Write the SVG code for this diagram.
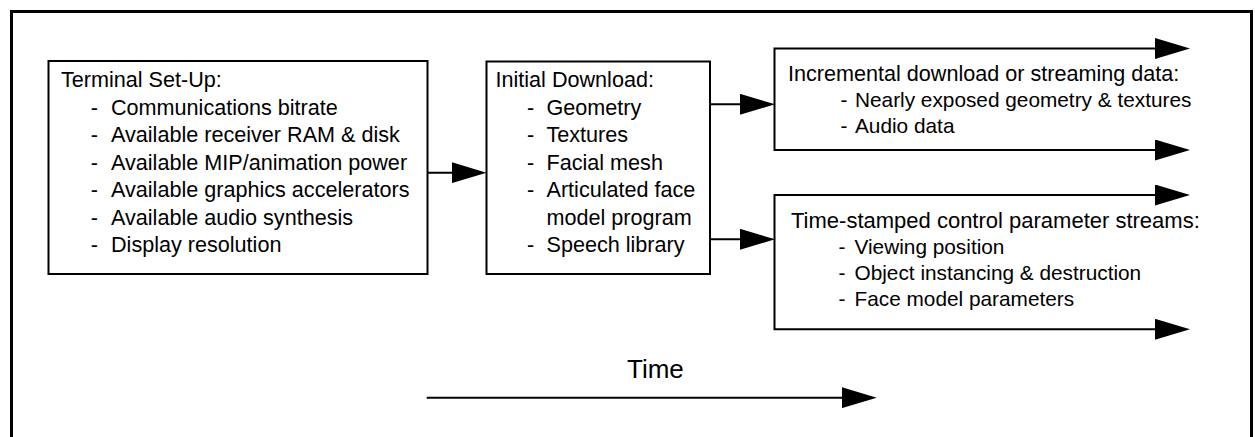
<svg xmlns="http://www.w3.org/2000/svg" width="1255" height="437" viewBox="0 0 1255 437">
  <style>
    .box { fill: #fff; stroke: #000; stroke-width: 2; }
    .frame { fill: #fff; stroke: #000; stroke-width: 3; }
    .wire { fill: none; stroke: #000; stroke-width: 2; }
    text { font-family: "Liberation Sans", Arial, sans-serif; font-size: 21.6px; fill: #000; }
    .item { font-size: 20.8px; }
    .wide { font-size: 22px; }
    .big { font-size: 26px; }
  </style>
  <defs>
    <!-- solid triangular arrowhead, 35 long by 21 wide; line ends 5px short of the tip -->
    <marker id="head" viewBox="0 0 35 21" refX="30" refY="10.5" markerWidth="35" markerHeight="21" markerUnits="userSpaceOnUse" orient="auto-start-reverse">
      <path d="M0,0 L35,10.5 L0,21 Z" fill="#000"/>
    </marker>
  </defs>

  <!-- outer frame (bottom edge runs off the page) -->
  <rect class="frame" x="11.5" y="11.5" width="1240" height="460"/>

  <g id="terminal-setup">
    <rect class="box" x="48.5" y="61" width="379" height="213"/>
    <text x="61" y="87">Terminal Set-Up:</text>
    <text x="90.8" y="114.5">-</text><text x="111" y="114.5">Communications bitrate</text>
    <text x="90.8" y="142">-</text><text x="111" y="142">Available receiver RAM &amp; disk</text>
    <text x="90.8" y="169.5">-</text><text x="111" y="169.5">Available MIP/animation power</text>
    <text x="90.8" y="197">-</text><text x="111" y="197">Available graphics accelerators</text>
    <text x="90.8" y="224.5">-</text><text x="111" y="224.5">Available audio synthesis</text>
    <text x="90.8" y="252">-</text><text x="111" y="252">Display resolution</text>
  </g>

  <g id="initial-download">
    <rect class="box" x="486.5" y="61.5" width="223.5" height="212.5"/>
    <text x="495.5" y="87">Initial Download:</text>
    <text x="527" y="114.5">-</text><text x="546.5" y="114.5">Geometry</text>
    <text x="527" y="142">-</text><text x="546.5" y="142">Textures</text>
    <text x="527" y="169.5">-</text><text x="546.5" y="169.5">Facial mesh</text>
    <text x="527" y="197">-</text><text x="546.5" y="197">Articulated face</text>
    <text x="546.5" y="224.5">model program</text>
    <text x="527" y="252">-</text><text x="546.5" y="252">Speech library</text>
  </g>

  <g id="incremental-download">
    <path class="wire" d="M1185,48.5 H774.5 V150 H1185" marker-start="url(#head)" marker-end="url(#head)"/>
    <text x="788" y="80.5">Incremental download or streaming data:</text>
    <text class="item" x="840.5" y="106.5">-</text><text class="item" x="855" y="106.5">Nearly exposed geometry &amp; textures</text>
    <text class="item" x="840.5" y="132.5">-</text><text class="item" x="855" y="132.5">Audio data</text>
  </g>

  <g id="control-streams">
    <path class="wire" d="M1185,195 H774.5 V329.3 H1185" marker-start="url(#head)" marker-end="url(#head)"/>
    <text class="wide" x="791" y="228">Time-stamped control parameter streams:</text>
    <text class="item" x="838.5" y="254">-</text><text class="item" x="854.5" y="254">Viewing position</text>
    <text class="item" x="838.5" y="280">-</text><text class="item" x="854.5" y="280">Object instancing &amp; destruction</text>
    <text class="item" x="838.5" y="306">-</text><text class="item" x="854.5" y="306">Face model parameters</text>
  </g>

  <g id="time-axis">
    <text class="big" x="627" y="377.7">Time</text>
    <path class="wire" d="M426.7,397.7 H871.7" marker-end="url(#head)"/>
  </g>

  <g id="connectors">
    <path class="wire" d="M428,172.7 H481.5" marker-end="url(#head)"/>
    <path class="wire" d="M710,104.3 H770" marker-end="url(#head)"/>
    <path class="wire" d="M710,239.3 H770" marker-end="url(#head)"/>
  </g>
</svg>
